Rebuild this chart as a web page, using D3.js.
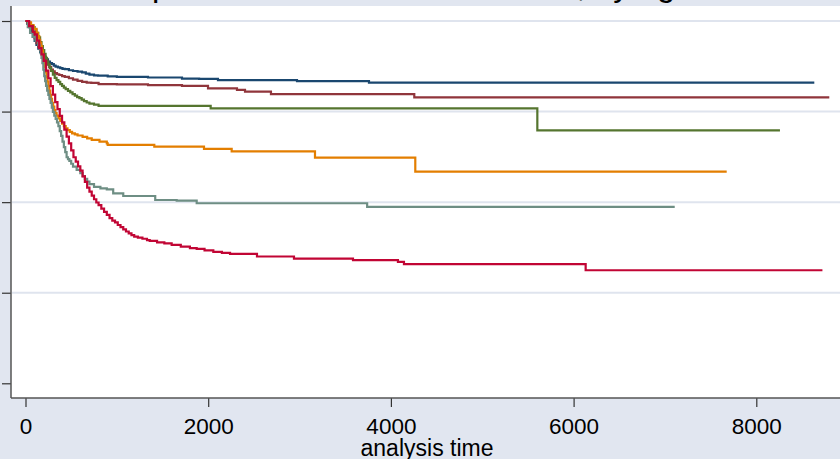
<!DOCTYPE html>
<html>
<head>
<meta charset="utf-8">
<script src="https://cdn.jsdelivr.net/npm/d3@7"></script>
<style>
  body { margin: 0; overflow: hidden; background: #e1e6f0; }
  text { font-family: "Liberation Sans", Arial, sans-serif; fill: #000; }
</style>
</head>
<body>
<script>
// Kaplan-Meier estimates, one step curve per group
const groups = ["1", "2", "3", "4", "5", "6"];
const xTicks = [0, 2000, 4000, 6000, 8000];
const yTicks = [0, 0.25, 0.5, 0.75, 1];
const yTickLabels = ["0.00", "0.25", "0.50", "0.75", "1.00"];

const time1 = [0, 20, 40, 60, 80, 100, 120, 140, 160, 180, 200, 223, 246, 268, 290, 310, 330, 355, 380, 405, 432, 475, 520, 570, 619, 660, 700, 750, 794, 900, 1000, 1341, 1713, 1900, 2107, 2972, 3760, 8635];
const surv1 = [1, .992, .983, .970, .956, .945, .934, .924, .914, .907, .901, .894, .888, .884, .881, .877, .874, .872, .870, .868, .867, .864, .862, .860, .858, .855, .852, .850, .849, .847, .846, .844, .841, .840, .837, .834, .830, .830];

const time2 = [0, 20, 40, 60, 80, 100, 120, 140, 160, 180, 200, 220, 240, 260, 280, 300, 320, 345, 370, 400, 430, 475, 520, 570, 620, 670, 720, 800, 1000, 1341, 1713, 1998, 2315, 2403, 2687, 4256, 8799];
const surv2 = [1, .995, .989, .979, .967, .953, .939, .929, .920, .911, .901, .891, .881, .873, .866, .861, .856, .853, .851, .848, .846, .842, .838, .835, .832, .830, .829, .826, .825, .823, .821, .814, .810, .805, .798, .789, .789];

const time3 = [0, 20, 40, 60, 80, 100, 120, 140, 160, 175, 190, 205, 220, 235, 250, 265, 280, 300, 320, 340, 360, 380, 400, 420, 440, 465, 490, 515, 540, 565, 590, 615, 640, 670, 700, 750, 800, 2027, 5603, 8259];
const surv3 = [1, .998, .994, .989, .983, .976, .967, .955, .942, .931, .920, .909, .898, .888, .879, .870, .862, .852, .843, .837, .832, .826, .821, .816, .812, .807, .803, .798, .794, .790, .787, .783, .779, .775, .772, .769, .766, .759, .698, .698];

const time4 = [0, 30, 60, 90, 120, 135, 150, 160, 170, 180, 190, 200, 210, 220, 230, 240, 250, 260, 270, 280, 290, 302, 315, 327, 340, 360, 380, 400, 420, 440, 460, 485, 510, 540, 570, 625, 675, 725, 810, 890, 900, 1410, 1954, 2257, 3169, 4267, 7676];
const surv4 = [1, .996, .988, .978, .967, .958, .948, .940, .931, .918, .903, .888, .873, .859, .845, .833, .821, .808, .796, .785, .774, .764, .754, .746, .739, .731, .724, .717, .710, .704, .699, .694, .690, .687, .684, .680, .676, .672, .667, .662, .658, .653, .647, .640, .623, .584, .584];

const time5 = [0, 25, 50, 80, 110, 140, 155, 165, 175, 185, 195, 205, 215, 225, 237, 250, 262, 275, 288, 300, 315, 330, 345, 360, 375, 390, 405, 420, 435, 450, 465, 480, 500, 520, 560, 600, 625, 650, 675, 700, 750, 820, 890, 960, 1070, 1420, 1655, 1874, 3740, 7107];
const surv5 = [1, .983, .967, .956, .946, .934, .922, .911, .898, .884, .866, .848, .834, .821, .808, .796, .785, .774, .761, .749, .739, .730, .720, .710, .696, .683, .667, .652, .638, .624, .619, .614, .606, .598, .589, .580, .572, .564, .557, .550, .542, .538, .535, .524, .517, .506, .504, .497, .487, .487];

const time6 = [0, 40, 80, 100, 125, 150, 175, 200, 225, 250, 275, 300, 325, 350, 375, 400, 425, 450, 475, 500, 525, 550, 575, 600, 625, 650, 675, 700, 725, 750, 775, 800, 830, 860, 890, 920, 950, 980, 1010, 1040, 1070, 1100, 1130, 1160, 1190, 1230, 1280, 1330, 1360, 1440, 1520, 1600, 1700, 1800, 1874, 1960, 2056, 2150, 2239, 2534, 2939, 3585, 4077, 4143, 6132, 8724];
const surv6 = [1, .986, .970, .963, .946, .925, .908, .890, .863, .842, .820, .797, .776, .757, .738, .720, .700, .681, .662, .643, .624, .612, .599, .587, .571, .556, .540, .529, .518, .508, .499, .492, .482, .473, .465, .456, .449, .444, .437, .431, .425, .419, .414, .409, .405, .402, .399, .395, .393, .389, .386, .382, .377, .373, .371, .367, .363, .360, .357, .350, .344, .340, .335, .329, .312, .312];

const times = [time1, time2, time3, time4, time5, time6];
const survs = [surv1, surv2, surv3, surv4, surv5, surv6];
// Stata s2color palette
const colors = ["#1a476f", "#90353b", "#55752f", "#e37e00", "#6e8e84", "#c10534"];

const W = 840, H = 459;
const plot = { left: 11, top: 6, right: 846, bottom: 398 };

const svg = d3.select("body").append("svg")
  .attr("width", W)
  .attr("height", H);

svg.append("rect")
  .attr("width", W).attr("height", H)
  .attr("fill", "#e1e6f0");

// title sits mostly above the visible area, only descenders show
svg.append("text")
  .attr("x", 424.5)
  .attr("y", -4.5)
  .attr("text-anchor", "middle")
  .style("font-size", "32.8px")
  .text("Kaplan-Meier survival estimates, by agecat");

svg.append("rect")
  .attr("x", plot.left).attr("y", plot.top)
  .attr("width", plot.right - plot.left)
  .attr("height", plot.bottom - plot.top)
  .attr("fill", "#fff");

const x = d3.scaleLinear().domain([0, 8000]).range([25.5, 756.3]);
const y = d3.scaleLinear().domain([0, 1]).range([383.3, 21]);

// grid lines
svg.append("g")
  .selectAll("line")
  .data(yTicks.filter(d => d > 0))
  .join("line")
  .attr("x1", plot.left + 1).attr("x2", plot.right)
  .attr("y1", d => y(d)).attr("y2", d => y(d))
  .attr("stroke", "#dfe4ee")
  .attr("stroke-width", 2);

// curves
const line = d3.line()
  .x(d => x(d[0]))
  .y(d => y(d[1]))
  .curve(d3.curveStepAfter);

svg.append("g")
  .selectAll("path")
  .data(groups.map((g, i) => times[i].map((t, j) => [t, survs[i][j]])))
  .join("path")
  .attr("d", line)
  .attr("fill", "none")
  .attr("stroke", (d, i) => colors[i])
  .attr("stroke-width", 2.2);

// axes
const xAxis = svg.append("g")
  .attr("transform", `translate(0,${plot.bottom})`)
  .call(d3.axisBottom(x).tickValues(xTicks).tickSize(9).tickPadding(11).tickFormat(d3.format("d")));
xAxis.select(".domain").remove();
xAxis.selectAll(".tick line").attr("stroke", "#333").attr("stroke-width", 1.2);
xAxis.selectAll(".tick text")
  .style("font-size", "22.5px")
  .attr("fill", "#000");

const yAxis = svg.append("g")
  .attr("transform", `translate(${plot.left},0)`)
  .call(d3.axisLeft(y).tickValues(yTicks).tickSize(9).tickPadding(8)
    .tickFormat((d, i) => yTickLabels[i]));
yAxis.select(".domain").remove();
yAxis.selectAll(".tick line").attr("stroke", "#333").attr("stroke-width", 1.2);
yAxis.selectAll(".tick text")
  .style("font-size", "22.5px")
  .attr("fill", "#000");

svg.append("line")
  .attr("x1", plot.left).attr("x2", plot.right)
  .attr("y1", plot.bottom).attr("y2", plot.bottom)
  .attr("stroke", "#555").attr("stroke-width", 1.5);
svg.append("line")
  .attr("x1", plot.left).attr("x2", plot.left)
  .attr("y1", plot.top).attr("y2", plot.bottom)
  .attr("stroke", "#555").attr("stroke-width", 1.5);

svg.append("text")
  .attr("x", 427)
  .attr("y", 455.5)
  .attr("text-anchor", "middle")
  .style("font-size", "23px")
  .text("analysis time");
</script>
</body>
</html>
